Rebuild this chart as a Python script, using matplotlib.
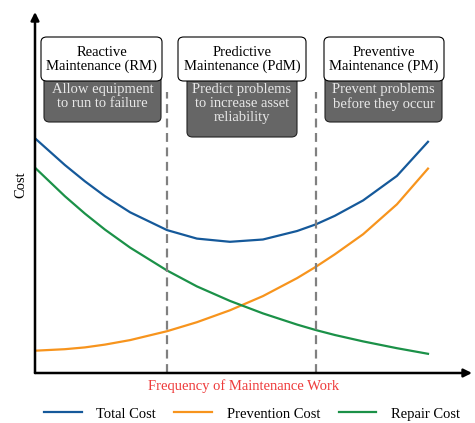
import numpy as np
import matplotlib
matplotlib.use("Agg")
import matplotlib.pyplot as plt
from matplotlib.patches import FancyBboxPatch

plt.rcParams['font.family'] = ['Liberation Serif', 'DejaVu Serif']

# frequency of maintenance work (arbitrary units) and costs (arbitrary units)
freq = [0, 0.76, 1.27, 1.78, 2.42, 3.36, 4.12, 4.96, 5.80, 6.67, 7.15, 7.63, 8.35, 9.21, 10.0]
total_cost = [234.7, 208.0, 191.7, 176.8, 160.7, 142.9, 134.4, 131.2, 133.5, 142, 148.7, 157.2, 172.6, 197.1, 231.2]
prevention_cost = [22.3, 23.8, 25.6, 28.4, 32.9, 41.8, 50.8, 62.7, 76.9, 94.9, 106.3, 118.7, 138.8, 168.7, 204.4]
repair_cost = [205.3, 176.8, 159.4, 143.4, 125.4, 102.5, 86.6, 72.1, 59.6, 48.4, 42.9, 38, 31.6, 24.8, 19.2]
strategy_bounds = [3.36, 7.15]

W, H = 475, 423
fig = plt.figure(figsize=(W / 100, H / 100), dpi=100)


def fx(px):
    return px / W


def fy(py):
    return 1 - py / H


ax = fig.add_axes([fx(35), fy(373), fx(472) - fx(35), fy(12) - fy(373)])
ax.set_xlim(0, 11.12)
ax.set_ylim(0, 361)
for s in ax.spines.values():
    s.set_visible(False)
ax.set_xticks([])
ax.set_yticks([])

l1, = ax.plot(freq, total_cost, color='#15599a', lw=1.6, label='Total Cost')
l2, = ax.plot(freq, prevention_cost, color='#f7941d', lw=1.6, label='Prevention Cost')
l3, = ax.plot(freq, repair_cost, color='#1b9148', lw=1.6, label='Repair Cost')
ax.vlines(strategy_bounds, 0, 281, colors='#808080', linestyles=(0, (4, 2.5)), lw=1.6)

arrow = dict(arrowstyle='-|>', color='black', lw=1.8, mutation_scale=12, shrinkA=0, shrinkB=0)
ax.annotate('', xy=(1, 0), xytext=(0, 0), xycoords='axes fraction', arrowprops=arrow, annotation_clip=False)
ax.annotate('', xy=(0, 1), xytext=(0, 0), xycoords='axes fraction', arrowprops=arrow, annotation_clip=False)

fig.text(fx(21), fy(185), 'Cost', rotation=90, ha='center', va='center', fontsize=10.5)
fig.text(fx(244), fy(386), 'Frequency of Maintenance Work', ha='center', va='center',
         fontsize=10.5, color='#ee3b3b')

# strategy boxes: (white box x0, x1), (dark box x0, x1, bottom), title, description
boxes = [
    ((41, 162), (44, 161, 122), 'Reactive\nMaintenance (RM)', 'Allow equipment\nto run to failure'),
    ((178, 306), (187, 297, 137), 'Predictive\nMaintenance (PdM)', 'Predict problems\nto increase asset\nreliability'),
    ((324, 444), (325, 442, 122), 'Preventive\nMaintenance (PM)', 'Prevent problems\nbefore they occur'),
]
for (wx0, wx1), (dx0, dx1, db), title, desc in boxes:
    dark = FancyBboxPatch((fx(dx0), fy(db)), fx(dx1) - fx(dx0), fy(75) - fy(db),
                          boxstyle='round,pad=0,rounding_size=0.012', transform=fig.transFigure,
                          facecolor='#666666', edgecolor='#222222', lw=0.8, zorder=3)
    fig.patches.append(dark)
    white = FancyBboxPatch((fx(wx0), fy(81)), fx(wx1) - fx(wx0), fy(37) - fy(81),
                           boxstyle='round,pad=0,rounding_size=0.012', transform=fig.transFigure,
                           facecolor='white', edgecolor='black', lw=0.8, zorder=4)
    fig.patches.append(white)
    fig.text(fx((wx0 + wx1) / 2), fy(59.5), title, ha='center', va='center', fontsize=10.5,
             linespacing=1.0, zorder=5)
    fig.text(fx((dx0 + dx1) / 2), fy(83), desc, ha='center', va='top', fontsize=10.5,
             color='#e8e8e8', linespacing=1.08, zorder=5)

fig.legend(handles=[l1, l2, l3], loc='center', bbox_to_anchor=(fx(252), fy(414)), ncol=3,
           frameon=False, fontsize=10.5, handlelength=2.6, columnspacing=1.25, handletextpad=1.0)

fig.savefig('out.png', dpi=100)
